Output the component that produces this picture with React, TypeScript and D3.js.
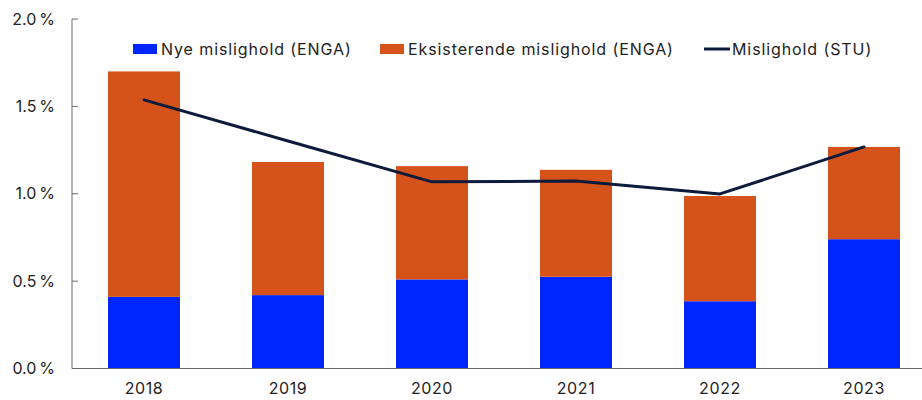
import React from "react";
import * as d3 from "d3";

const years = ["2018", "2019", "2020", "2021", "2022", "2023"];
const nyeMislighold = [0.41, 0.42, 0.51, 0.525, 0.385, 0.74];
const totalMislighold = [1.70, 1.182, 1.158, 1.137, 0.987, 1.268];
const eksisterendeMislighold = totalMislighold.map((t, i) => +(t - nyeMislighold[i]).toFixed(3));
const misligholdSTU = [1.537, 1.302, 1.068, 1.073, 0.999, 1.268];
const yTicks = [0, 0.5, 1.0, 1.5, 2.0];

const W = 922;
const H = 400;
const left = 72;
const top = 19;
const bottom = 368.5;

const BLUE = "#0026ff";
const ORANGE = "#d5531a";
const NAVY = "#0c1a3c";
const FONT = "Inter, 'Noto Sans', sans-serif";

export default function App() {
  const x = d3.scaleBand<string>().domain(years).range([left, 936]).paddingInner(0.5).paddingOuter(0.25);
  const y = d3.scaleLinear().domain([0, 2]).range([bottom, top]);
  const line = d3
    .line<number>()
    .x((_, i) => (x(years[i]) as number) + x.bandwidth() / 2)
    .y((d) => y(d));

  const legend = [
    { type: "rect", color: BLUE, label: "Nye mislighold (ENGA)", x: 133 },
    { type: "rect", color: ORANGE, label: "Eksisterende mislighold (ENGA)", x: 380 },
    { type: "line", color: NAVY, label: "Mislighold (STU)", x: 704 },
  ];

  return (
    <svg width={W} height={H} style={{ position: "absolute", left: 0, top: 0 }} fontFamily={FONT}>
      <rect width={W} height={H} fill="#fff" />
      {years.map((yr, i) => {
        const bx = x(yr) as number;
        return (
          <g key={yr}>
            <rect x={bx} width={x.bandwidth()} y={y(nyeMislighold[i])} height={y(0) - y(nyeMislighold[i])} fill={BLUE} />
            <rect
              x={bx}
              width={x.bandwidth()}
              y={y(nyeMislighold[i] + eksisterendeMislighold[i])}
              height={y(nyeMislighold[i]) - y(nyeMislighold[i] + eksisterendeMislighold[i])}
              fill={ORANGE}
            />
          </g>
        );
      })}
      <path d={line(misligholdSTU) || ""} fill="none" stroke={NAVY} strokeWidth={3} strokeLinejoin="round" strokeLinecap="round" />
      {/* y axis */}
      <line x1={left} x2={left} y1={top} y2={bottom} stroke="#6b6b6b" strokeWidth={1} />
      {yTicks.map((t) => (
        <g key={t}>
          <line x1={left} x2={left + 6} y1={y(t)} y2={y(t)} stroke="#6b6b6b" strokeWidth={1} />
          <text x={55} y={y(t)} dy="0.35em" textAnchor="end" fontSize={16} fill="#222" letterSpacing={0.3}>
            {t.toFixed(1) + "\u202F%"}
          </text>
        </g>
      ))}
      {/* x axis */}
      <line x1={left} x2={W} y1={bottom} y2={bottom} stroke="#6b6b6b" strokeWidth={1.2} />
      {years.map((yr) => (
        <text key={yr} x={(x(yr) as number) + x.bandwidth() / 2} y={388} dy="0.35em" textAnchor="middle" fontSize={16} fill="#222" letterSpacing={0.6}>
          {yr}
        </text>
      ))}
      {/* legend */}
      {legend.map((l) => (
        <g key={l.label}>
          {l.type === "rect" ? (
            <rect x={l.x} y={44} width={24} height={10} fill={l.color} />
          ) : (
            <line x1={l.x} x2={l.x + 26} y1={49} y2={49} stroke={l.color} strokeWidth={3} />
          )}
          <text x={l.x + 28} y={49} dy="0.35em" fontSize={16} fill="#222" letterSpacing={0.9}>
            {l.label}
          </text>
        </g>
      ))}
    </svg>
  );
}
